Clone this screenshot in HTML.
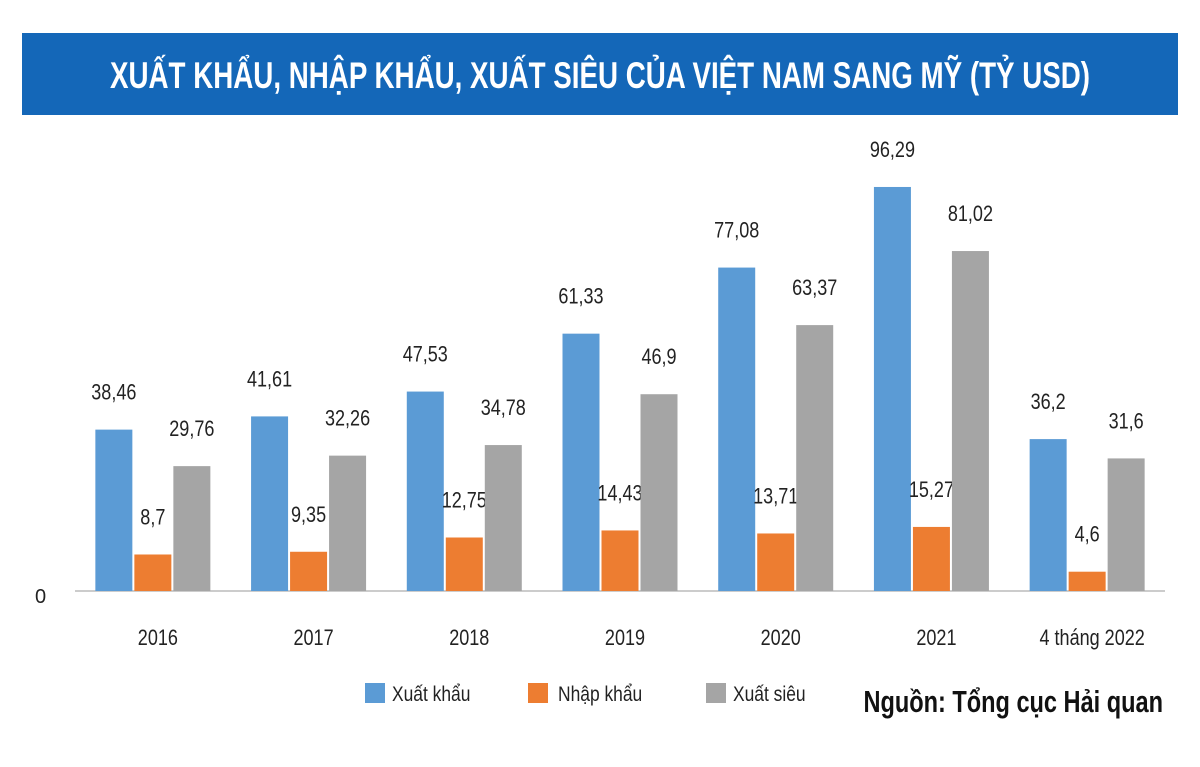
<!DOCTYPE html>
<html><head><meta charset="utf-8"><style>
body{margin:0;background:#fff;width:1200px;height:762px;overflow:hidden;font-family:"Liberation Sans",sans-serif}
</style></head><body>
<svg width="1200" height="762" xmlns="http://www.w3.org/2000/svg">
<rect x="22" y="33" width="1156" height="82" fill="#1467b8"/>
<text x="600" y="88" text-anchor="middle" fill="#fff" font-family="Liberation Sans, sans-serif" font-weight="bold" font-size="37" transform="translate(600,0) scale(0.75,1) translate(-600,0)">XUẤT KHẨU, NHẬP KHẨU, XUẤT SIÊU CỦA VIỆT NAM SANG MỸ (TỶ USD)</text>
<line x1="75" y1="591" x2="1165" y2="591" stroke="#bbb" stroke-width="1.5"/>
<text x="35" y="603" font-size="20" fill="#222">0</text>
<g id="bars"></g>
<rect x="365" y="683" width="20" height="20" fill="#5b9bd5"/>
<text x="392" y="701" font-size="21" fill="#222" transform="translate(392,0) scale(0.83,1) translate(-392,0)">Xuất khẩu</text>
<rect x="528" y="683" width="20" height="20" fill="#ed7d31"/>
<text x="558" y="701" font-size="21" fill="#222" transform="translate(558,0) scale(0.83,1) translate(-558,0)">Nhập khẩu</text>
<rect x="706" y="683" width="20" height="20" fill="#a5a5a5"/>
<text x="733" y="701" font-size="21" fill="#222" transform="translate(733,0) scale(0.83,1) translate(-733,0)">Xuất siêu</text>
<text x="1163" y="712" text-anchor="end" font-size="31" font-weight="bold" fill="#111" transform="translate(1163,0) scale(0.76,1) translate(-1163,0)">Nguồn: Tổng cục Hải quan</text>
</svg>
<script>
const categories=["2016","2017","2018","2019","2020","2021","4 tháng 2022"];
const exportVals=[38.46,41.61,47.53,61.33,77.08,96.29,36.2];
const importVals=[8.7,9.35,12.75,14.43,13.71,15.27,4.6];
const surplusVals=[29.76,32.26,34.78,46.9,63.37,81.02,31.6];
const exportLabels=["38,46","41,61","47,53","61,33","77,08","96,29","36,2"];
const importLabels=["8,7","9,35","12,75","14,43","13,71","15,27","4,6"];
const surplusLabels=["29,76","32,26","34,78","46,9","63,37","81,02","31,6"];
const NS="http://www.w3.org/2000/svg";
const g=document.getElementById('bars');
const x0=75,x1=1165,base=591,scale=4.196;
const band=(x1-x0)/categories.length;
const y=v=>base-v*scale;
const bw=37,gap=2;
const sq=(x)=>'translate('+x+',0) scale(0.82,1) translate('+(-x)+',0)';
const series=[[exportVals,exportLabels,"#5b9bd5","export"],[importVals,importLabels,"#ed7d31","import"],[surplusVals,surplusLabels,"#a5a5a5","surplus"]];
categories.forEach((c,i)=>{
 const cx=x0+band*(i+0.5);
 series.forEach((s,j)=>{
  const bx=cx-1.5*bw-gap+j*(bw+gap);
  const r=document.createElementNS(NS,'rect');
  r.setAttribute('x',bx);r.setAttribute('y',y(s[0][i]));
  r.setAttribute('width',bw);r.setAttribute('height',base-y(s[0][i]));
  r.setAttribute('fill',s[2]);
  
  
  g.appendChild(r);
  const t=document.createElementNS(NS,'text');
  t.setAttribute('x',bx+bw/2);t.setAttribute('y',y(s[0][i])-30);
  t.setAttribute('text-anchor','middle');t.setAttribute('font-size','22');t.setAttribute('fill','#222');
  t.setAttribute('transform',sq(bx+bw/2));
  t.textContent=s[1][i];
  
  
  g.appendChild(t);
 });
 const l=document.createElementNS(NS,'text');
 l.setAttribute('x',cx+5);l.setAttribute('y',645);l.setAttribute('text-anchor','middle');
 l.setAttribute('font-size','22');l.setAttribute('fill','#222');
 l.setAttribute('transform',sq(cx+5));
 l.textContent=c;
 
 
 g.appendChild(l);
});
</script>
</body></html>
